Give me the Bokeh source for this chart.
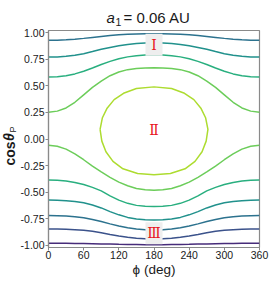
from bokeh.plotting import figure
from bokeh.layouts import column, row
from bokeh.models import Label, Range1d, FixedTicker, NumeralTickFormatter
from bokeh.embed import file_html
from bokeh.resources import INLINE
import math

# ---- data ----
phi = [0, 15, 30, 45, 60, 75, 90, 105, 120, 135, 150, 165, 180,
       195, 210, 225, 240, 255, 270, 285, 300, 315, 330, 345, 360]

# circulating trajectories (cos theta_p vs phi)
curve1 = [0.928, 0.929, 0.932, 0.938, 0.946, 0.955, 0.964, 0.972, 0.979, 0.984, 0.987, 0.989, 0.990,
          0.989, 0.987, 0.984, 0.979, 0.972, 0.964, 0.955, 0.946, 0.938, 0.932, 0.929, 0.928]
curve2 = [0.770, 0.772, 0.777, 0.787, 0.802, 0.822, 0.843, 0.861, 0.876, 0.889, 0.897, 0.902, 0.904,
          0.902, 0.897, 0.889, 0.876, 0.861, 0.843, 0.822, 0.802, 0.787, 0.777, 0.772, 0.770]
curve3 = [0.583, 0.586, 0.595, 0.612, 0.637, 0.667, 0.700, 0.730, 0.755, 0.772, 0.783, 0.789, 0.791,
          0.789, 0.783, 0.772, 0.755, 0.730, 0.700, 0.667, 0.637, 0.612, 0.595, 0.586, 0.583]
curve4 = [0.251, 0.262, 0.292, 0.345, 0.415, 0.485, 0.545, 0.595, 0.630, 0.652, 0.663, 0.668, 0.669,
          0.668, 0.663, 0.652, 0.630, 0.595, 0.545, 0.485, 0.415, 0.345, 0.292, 0.262, 0.251]
curve5 = [-0.058, -0.068, -0.095, -0.140, -0.195, -0.255, -0.310, -0.360, -0.405, -0.440, -0.465, -0.478, -0.482,
          -0.478, -0.465, -0.440, -0.405, -0.360, -0.310, -0.255, -0.195, -0.140, -0.095, -0.068, -0.058]
curve6 = [-0.386, -0.388, -0.395, -0.408, -0.428, -0.455, -0.488, -0.535, -0.575, -0.605, -0.624, -0.633, -0.635,
          -0.633, -0.624, -0.605, -0.575, -0.535, -0.488, -0.455, -0.428, -0.408, -0.395, -0.388, -0.386]
curve7 = [-0.574, -0.576, -0.580, -0.587, -0.600, -0.620, -0.648, -0.683, -0.713, -0.737, -0.752, -0.760, -0.762,
          -0.760, -0.752, -0.737, -0.713, -0.683, -0.648, -0.620, -0.600, -0.587, -0.580, -0.576, -0.574]
curve8 = [-0.720, -0.721, -0.724, -0.730, -0.740, -0.756, -0.776, -0.798, -0.818, -0.835, -0.847, -0.853, -0.855,
          -0.853, -0.847, -0.835, -0.818, -0.798, -0.776, -0.756, -0.740, -0.730, -0.724, -0.721, -0.720]
curve9 = [-0.845, -0.846, -0.848, -0.852, -0.858, -0.868, -0.882, -0.897, -0.911, -0.923, -0.932, -0.937, -0.939,
          -0.937, -0.932, -0.923, -0.911, -0.897, -0.882, -0.868, -0.858, -0.852, -0.848, -0.846, -0.845]
curve10 = [-0.980, -0.980, -0.981, -0.982, -0.983, -0.984, -0.986, -0.988, -0.990, -0.991, -0.992, -0.993, -0.993,
           -0.993, -0.992, -0.991, -0.990, -0.988, -0.986, -0.984, -0.983, -0.982, -0.981, -0.980, -0.980]

# librating (closed) trajectory
loop_phi = [88, 92, 100, 112, 128, 150, 180, 210, 232, 248, 260, 268, 272,
            269, 262, 250, 233, 208, 180, 152, 127, 110, 98, 91, 88]
loop_cos = [0.09, 0.20, 0.29, 0.37, 0.43, 0.475, 0.49, 0.475, 0.43, 0.37, 0.29, 0.20, 0.09,
            -0.02, -0.12, -0.21, -0.28, -0.325, -0.335, -0.325, -0.28, -0.21, -0.12, -0.02, 0.09]

curves = [curve1, curve2, curve3, curve4, curve5, curve6, curve7, curve8, curve9, curve10]
colors = ["#2c728e", "#21918c", "#29af7f", "#6ccd5a", "#6ccd5a", "#29af7f",
          "#21918c", "#2c728e", "#3b528b", "#472c7a"]
loop_color = "#addc30"

x_ticks = [0, 60, 120, 180, 240, 300, 360]
y_ticks = [-1.0, -0.75, -0.5, -0.25, 0.0, 0.25, 0.5, 0.75, 1.0]

region_text = ["\u2160", "\u2161", "\u2162"]
region_phi = [180, 180, 180]
region_cos = [0.886, 0.08, -0.886]
boxed_phi = [180, 180]
boxed_cos = [0.886, -0.886]

SANS = "Liberation Sans"
INK = "#1a1a1a"
AXIS_GRAY = "#8a8a8a"

TITLE_H = 28
LAB_W = 17
MAIN_W = 270 - LAB_W
MAIN_H = 252
FRAME_TOP_BORDER = 2
FRAME_BOTTOM_BORDER = 33


def blank(w, h, y_rng):
    f = figure(width=w, height=h, x_range=Range1d(0, w), y_range=y_rng,
               output_backend="svg", toolbar_location=None, title=None,
               x_axis_location=None, y_axis_location=None, min_border=0)
    f.grid.visible = False
    f.outline_line_color = None
    f.background_fill_color = "white"
    f.border_fill_color = "white"
    return f


def text_label(fig, x, y, text, size, style="normal", align="center", angle=0.0, font=SANS):
    fig.add_layout(Label(x=x, y=y, x_units="screen", y_units="screen", text=text,
                         angle=angle, text_font=font, text_font_style=style,
                         text_font_size=size, text_align=align, text_baseline="middle",
                         text_color=INK))


# ---- title strip:  a_1 = 0.06 AU ----
tfig = blank(270, TITLE_H, Range1d(0, TITLE_H))
text_label(tfig, 106, TITLE_H - 16.5, "a", "15px", style="italic", align="left")
text_label(tfig, 115, TITLE_H - 21.5, "1", "10.5px", align="left")
text_label(tfig, 123, TITLE_H - 16.5, "= 0.06 AU", "15px", align="left")

# ---- main plot ----
p = figure(width=MAIN_W, height=MAIN_H, x_range=Range1d(0, 360), y_range=Range1d(-1.02, 1.02),
           output_backend="svg", toolbar_location=None, title=None,
           min_border_left=31, min_border_right=11,
           min_border_top=FRAME_TOP_BORDER, min_border_bottom=FRAME_BOTTOM_BORDER)
p.grid.visible = False
p.background_fill_color = "white"
p.border_fill_color = "white"
p.outline_line_color = AXIS_GRAY
p.outline_line_width = 1.2

for ys, c in zip(curves, colors):
    p.line(phi, ys, line_color=c, line_width=1.5)
p.line(loop_phi, loop_cos, line_color=loop_color, line_width=1.5)

for ax in (p.xaxis[0], p.yaxis[0]):
    ax.axis_line_color = AXIS_GRAY
    ax.axis_line_width = 1.2
    ax.major_tick_line_color = AXIS_GRAY
    ax.minor_tick_line_color = None
    ax.major_tick_in = 0
    ax.major_tick_out = 3
    ax.major_label_text_font = SANS
    ax.major_label_text_font_size = "10.5px"
    ax.major_label_text_color = INK

p.xaxis.ticker = FixedTicker(ticks=x_ticks)
p.yaxis.ticker = FixedTicker(ticks=y_ticks)
p.yaxis.formatter = NumeralTickFormatter(format="0.00")
p.xaxis.major_label_standoff = 0
p.yaxis.major_label_standoff = 1
p.xaxis.axis_label = "\u03d5 (deg)"
p.xaxis.axis_label_text_font = SANS
p.xaxis.axis_label_text_font_size = "13.5px"
p.xaxis.axis_label_text_font_style = "normal"
p.xaxis.axis_label_text_color = INK
p.xaxis.axis_label_standoff = 0

# grey boxes behind region I and III labels
p.rect(x=boxed_phi, y=boxed_cos, width=17, height=22, width_units="screen", height_units="screen",
       fill_color="#eeeeee", line_color=None)
for t, xx, yy in zip(region_text, region_phi, region_cos):
    p.add_layout(Label(x=xx, y=yy, text=t, text_align="center", text_baseline="middle",
                       text_font="DejaVu Serif", text_font_size="14px", text_color="#e8141b"))

# ---- y-axis label strip: cos theta_P (frame aligned with the main frame) ----
yfig = blank(LAB_W, MAIN_H, Range1d(-1.02, 1.02))
FRAME_BOTTOM_PAGE = TITLE_H + MAIN_H - FRAME_BOTTOM_BORDER
text_label(yfig, 9.0, FRAME_BOTTOM_PAGE - 153.0, "cos", "14px", style="bold", angle=math.pi / 2)
text_label(yfig, 8.5, FRAME_BOTTOM_PAGE - 136.5, "\u03b8", "14px", style="bold italic", angle=math.pi / 2)
text_label(yfig, 12.0, FRAME_BOTTOM_PAGE - 129.0, "P", "9px", angle=math.pi / 2)

layout = column(tfig, row(yfig, p))
open("out.html", "w").write(file_html(layout, INLINE))
